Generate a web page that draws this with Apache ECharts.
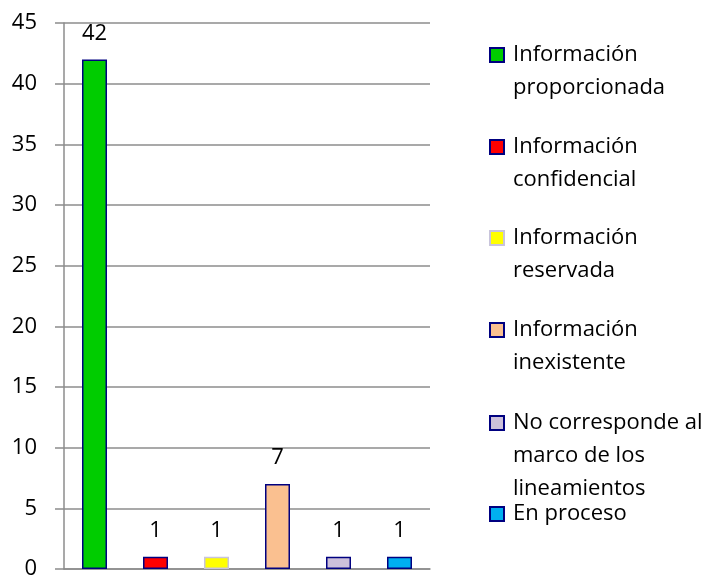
<!DOCTYPE html>
<html>
<head>
<meta charset="utf-8">
<script src="https://cdn.jsdelivr.net/npm/echarts@6/dist/echarts.min.js"></script>
<style>html,body{margin:0;padding:0;background:#fff;}#c{width:711px;height:580px;}</style>
</head>
<body>
<div id="c"></div>
<script>
const categories = ['Información proporcionada', 'Información confidencial', 'Información reservada', 'Información inexistente', 'No corresponde al marco de los lineamientos', 'En proceso'];
const values = [42, 1, 1, 7, 1, 1];
const legendLines = [
  ['Información', 'proporcionada'],
  ['Información', 'confidencial'],
  ['Información', 'reservada'],
  ['Información', 'inexistente'],
  ['No corresponde al', 'marco de los', 'lineamientos'],
  ['En proceso']
];
const colors = ['#00cc00', '#ff0000', '#ffff00', '#fac090', '#ccc0da', '#00b0f0'];
const borders = ['#000080', '#000080', '#c8c4dc', '#000080', '#000080', '#000080'];
const yTicks = { min: 0, max: 45, interval: 5 };

const FONT = 'Open Sans';
const LH = 33;
const legendCenters = [55, 147, 238, 330, 423, 514];

const series = categories.map((name, i) => ({
  name: name,
  type: 'bar',
  barWidth: 25,
  barGap: '-100%',
  data: categories.map((c, j) => (j === i ? values[i] : null)),
  itemStyle: { color: colors[i], borderColor: borders[i], borderWidth: 1.5 },
  label: {
    show: true, position: 'top', distance: 15,
    fontFamily: FONT, fontSize: 22, color: '#000'
  },
  emphasis: { disabled: true }
}));

const legends = categories.map((name, i) => {
  const n = legendLines[i].length;
  return {
    data: [{ name: name, icon: 'rect' }],
    orient: 'vertical',
    left: 489,
    top: legendCenters[i] - (2 * n - 1) * LH / 2,
    padding: 0,
    itemWidth: 14,
    itemHeight: 14,
    selectedMode: false,
    formatter: () => '\n'.repeat(n - 1) + legendLines[i].join('\n'),
    textStyle: {
      fontFamily: FONT, fontSize: 22, color: '#000', lineHeight: LH,
      padding: [0, 0, 0, 4]
    }
  };
});

const chart = echarts.init(document.getElementById('c'));
chart.setOption({
  animation: false,
  backgroundColor: '#fff',
  grid: { left: 64, right: 281, top: 23, bottom: 6, containLabel: false },
  legend: legends,
  xAxis: {
    type: 'category',
    data: categories,
    axisLine: { show: true, lineStyle: { color: '#8c8c8c', width: 1.5 } },
    axisTick: { show: false },
    axisLabel: { show: false },
    splitLine: { show: false }
  },
  yAxis: {
    type: 'value',
    min: yTicks.min, max: yTicks.max, interval: yTicks.interval,
    axisLine: { show: true, lineStyle: { color: '#8c8c8c', width: 1.5 } },
    axisTick: { show: true, length: 9, lineStyle: { color: '#8c8c8c', width: 1.5 } },
    axisLabel: { margin: 27, fontFamily: FONT, fontSize: 22, color: '#000' },
    splitLine: { show: true, lineStyle: { color: '#8c8c8c', width: 1.5 } }
  },
  series: series
});
</script>
</body>
</html>
